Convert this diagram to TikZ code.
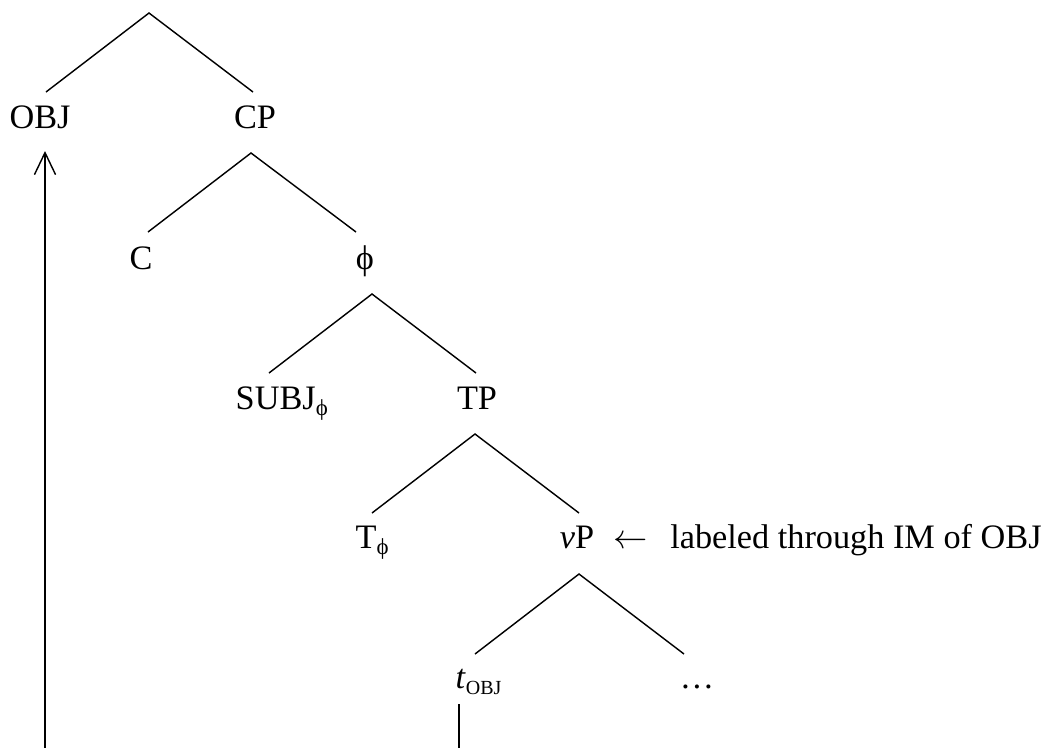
\documentclass[tikz,border=0pt]{standalone}
\usepackage{fontspec}
\setmainfont{Liberation Serif}
\usetikzlibrary{arrows.meta}
\newcommand{\lowtag}[1]{\raisebox{-2.4pt}{\fontsize{7}{8}\selectfont #1}}
\begin{document}
\begin{tikzpicture}[x=0.35pt, y=-0.35pt, line width=0.5pt,
    font=\fontsize{12}{14}\selectfont,
    lab/.style={inner sep=0pt, anchor=base},
    labw/.style={inner sep=0pt, anchor=base west}]
      \useasboundingbox (0,0) rectangle (1044,747);
      \clip (0,0) rectangle (1044,747);
      % labels
      \node[lab] (obj) at (40,128) {OBJ};
      \node[lab] (cp) at (255,128) {CP};
      \node[lab] (c) at (141,269) {C};
      \node[lab] (phi) at (365,269) {ϕ};
      \node[labw] (subj) at (235,409) {SUBJ\lowtag{\fontsize{8}{9}\selectfont ϕ}};
      \node[lab] (tp) at (477,409) {TP};
      \node[labw] (tphi) at (355,548) {T\lowtag{\fontsize{8}{9}\selectfont ϕ}};
      \node[lab] (vp) at (577,548) {\textit{v}P};
      \node[labw] (note) at (613,548) {$\leftarrow$\hspace{0.65em}labeled through IM of OBJ};
      \node[labw] (tobj) at (455,688) {\textit{t}\lowtag{OBJ}};
      \node[lab] (dots) at (697,688) {\dots};
      % branch points
      \coordinate (top) at (149,13);
      \coordinate (obj-end) at (46,92);
      \coordinate (cp-end) at (253,92);
      \coordinate (cp-top) at (251,153);
      \coordinate (c-end) at (148,232);
      \coordinate (phi-end) at (356,232);
      \coordinate (phi-top) at (372,294);
      \coordinate (subj-end) at (269,373);
      \coordinate (tp-end) at (476,373);
      \coordinate (tp-top) at (475,434);
      \coordinate (tphi-end) at (372,513);
      \coordinate (vp-end) at (579,513);
      \coordinate (vp-top) at (579,574);
      \coordinate (tobj-end) at (475,654);
      \coordinate (dots-end) at (684,654);
      \draw (obj-end) -- (top) -- (cp-end);
      \draw (c-end) -- (cp-top) -- (phi-end);
      \draw (subj-end) -- (phi-top) -- (tp-end);
      \draw (tphi-end) -- (tp-top) -- (vp-end);
      \draw (tobj-end) -- (vp-top) -- (dots-end);
      % movement of OBJ
      \coordinate (trace) at (459,704);
      \coordinate (low-r) at (459,780);
      \coordinate (low-l) at (45,780);
      \coordinate (landing) at (45,151);
      \draw[-{Straight Barb[length=7.7pt,width=7.4pt]}] (trace) -- (low-r) -- (low-l) -- (landing);
    \end{tikzpicture}
\end{document}
